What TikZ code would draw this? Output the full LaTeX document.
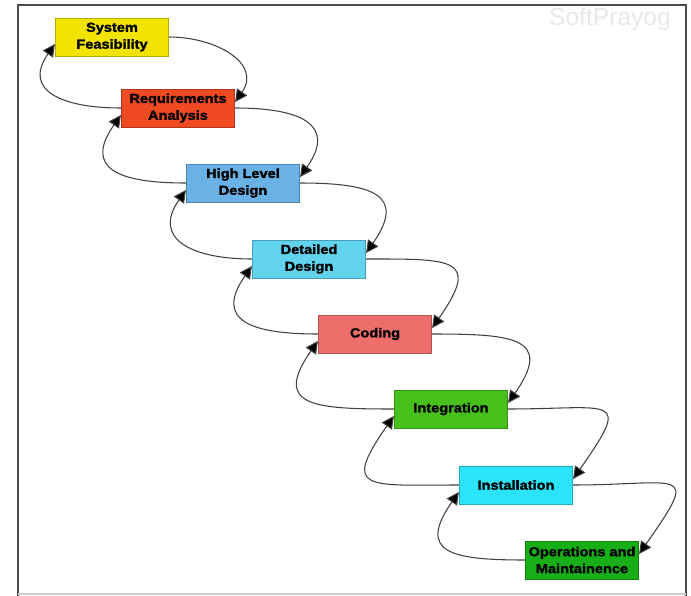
\documentclass[tikz,border=0pt]{standalone}
\usepackage{fontspec}
\setmainfont{Liberation Sans}
\newfontfamily\phasefont{Liberation Sans}[FakeStretch=1.12, FakeBold=2]
\usetikzlibrary{arrows.meta}

\definecolor{sfcol}{HTML}{F2E400}
\definecolor{racol}{HTML}{F04A22}
\definecolor{hldcol}{HTML}{6AB2E6}
\definecolor{ddcol}{HTML}{62D3EC}
\definecolor{codcol}{HTML}{EE6E6C}
\definecolor{intcol}{HTML}{48C01C}
\definecolor{instcol}{HTML}{2AE4FC}
\definecolor{omcol}{HTML}{17AE17}

\begin{document}
\begin{tikzpicture}[x=0.02cm, y=-0.02cm,
  phase/.style={rectangle, fill=#1, draw=#1!75!black, line width=0.4pt,
    minimum width=2.27cm, minimum height=0.76cm, inner sep=1pt, align=center,
    font=\phasefont\fontsize{7.4}{9.6}\selectfont\bfseries},
  fwd/.style={draw=black!75, line width=0.6pt, -{Triangle[length=7pt,width=7pt,fill=black]}},
  bwd/.style={draw=black!75, line width=0.6pt, -{Triangle[length=7pt,width=7pt,fill=black]}}]

 \useasboundingbox (0,0) rectangle (691,596);

 %%%  frame
 \draw [black!70, line width=1.2pt] (18,596) -- (18,5) -- (686,5) -- (686,596);
 \draw [black!20, line width=0.8pt] (18,594) -- (686,594);
 \node [text=black!9, font=\fontsize{14}{14}\selectfont] (mark) at (610,19) {SoftPrayog};

 %%%  nodes

 % phases
 \node [phase=sfcol]   (sf)   at (112,37)  {System\\Feasibility};
 \node [phase=racol]   (ra)   at (178,108) {Requirements\\Analysis};
 \node [phase=hldcol]  (hld)  at (243,183) {High Level\\Design};
 \node [phase=ddcol]   (dd)   at (309,259) {Detailed\\Design};
 \node [phase=codcol]  (cod)  at (375,334) {Coding};
 \node [phase=intcol]  (int)  at (451,409) {Integration};
 \node [phase=instcol] (inst) at (516,485) {Installation};
 \node [phase=omcol]   (om)   at (582,560) {Operations and\\Maintainence};

 %%%  edges

 % forward, right side
 \foreach \a/\b/\l in {sf/ra/1.3, ra/hld/1.75, hld/dd/1.9, dd/cod/2.3, cod/int/2.0, int/inst/2.8, inst/om/2.9}
   \draw [fwd] (\a.east) to[out=0, in=55, looseness=\l] ([yshift=0.12cm]\b.east);

 % back, left side
 \foreach \a/\b/\l in {ra/sf/1.6, hld/ra/1.8, dd/hld/1.6, cod/dd/1.8, int/cod/2.0, inst/int/2.5, om/inst/2.0}
   \draw [bwd] (\a.west) to[out=180, in=235, looseness=\l] ([yshift=-0.14cm]\b.west);

\end{tikzpicture}
\end{document}
